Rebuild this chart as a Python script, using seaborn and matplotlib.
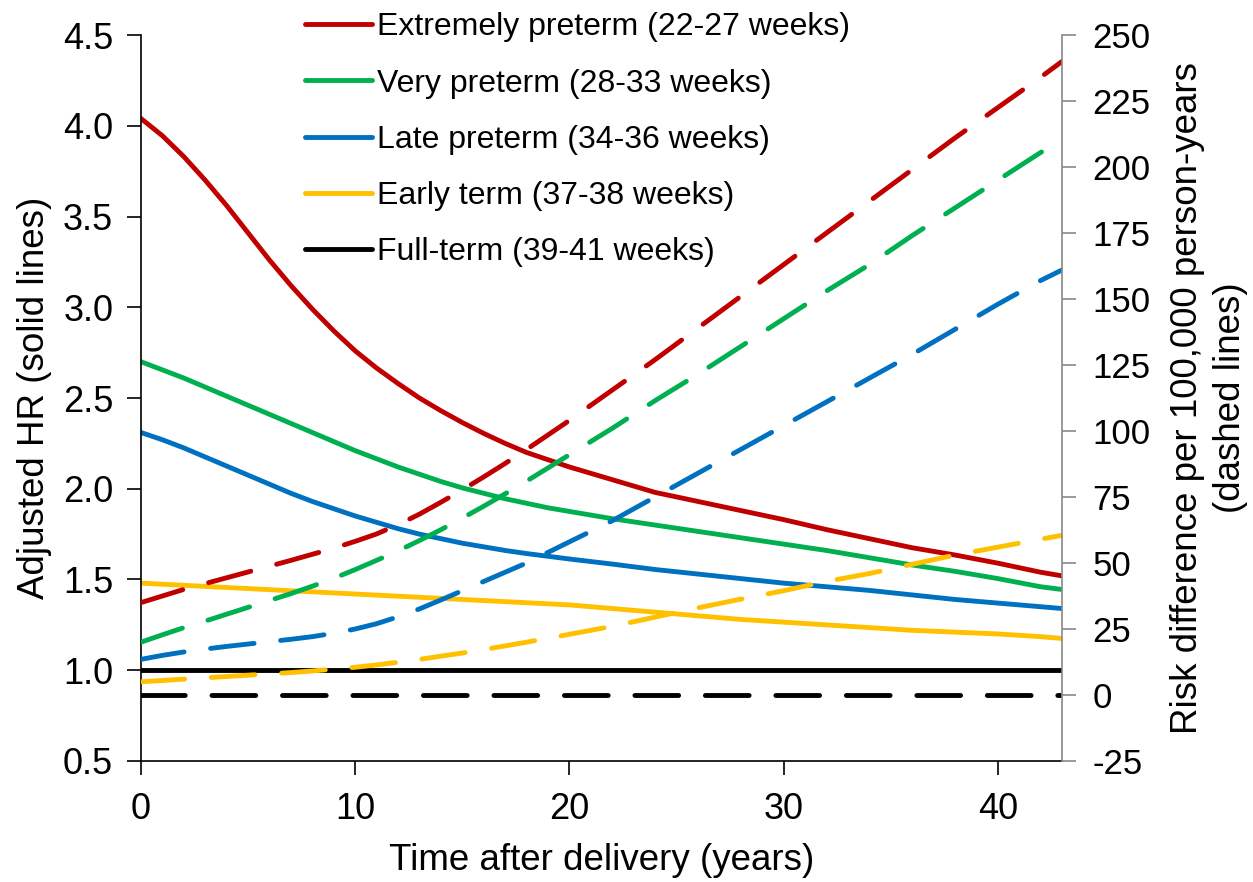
import numpy as np
import pandas as pd
import seaborn as sns
import matplotlib
matplotlib.use("Agg")
import matplotlib.pyplot as plt
from matplotlib.lines import Line2D

years = list(range(0, 21)) + [22, 24, 26, 28, 30, 32, 34, 36, 38, 40, 42, 43]

groups = ["Extremely preterm (22-27 weeks)", "Very preterm (28-33 weeks)",
          "Late preterm (34-36 weeks)", "Early term (37-38 weeks)",
          "Full-term (39-41 weeks)"]
colors = ["#C00000", "#00B050", "#0070C0", "#FFC000", "#000000"]

# adjusted hazard ratios (solid lines, left axis)
hr_extreme = [4.04, 3.945, 3.83, 3.70, 3.56, 3.41, 3.26, 3.12, 2.99, 2.87, 2.76,
              2.665, 2.58, 2.50, 2.43, 2.365, 2.305, 2.25, 2.20, 2.16, 2.12,
              2.05, 1.98, 1.93, 1.88, 1.83, 1.775, 1.725, 1.675, 1.635, 1.59, 1.54, 1.52]
hr_very = [2.70, 2.655, 2.61, 2.56, 2.51, 2.46, 2.41, 2.36, 2.31, 2.26, 2.21,
           2.165, 2.12, 2.08, 2.04, 2.005, 1.975, 1.945, 1.92, 1.895, 1.875,
           1.835, 1.80, 1.765, 1.73, 1.695, 1.66, 1.62, 1.58, 1.545, 1.505, 1.46, 1.445]
hr_late = [2.31, 2.27, 2.225, 2.175, 2.125, 2.075, 2.025, 1.975, 1.93, 1.89, 1.85,
           1.815, 1.78, 1.75, 1.725, 1.70, 1.68, 1.66, 1.643, 1.628, 1.613,
           1.585, 1.555, 1.53, 1.505, 1.48, 1.46, 1.44, 1.415, 1.39, 1.37, 1.35, 1.34]
hr_early = [1.48, 1.474, 1.468, 1.462, 1.456, 1.45, 1.444, 1.438, 1.432, 1.426, 1.42,
            1.414, 1.408, 1.402, 1.396, 1.39, 1.384, 1.378, 1.372, 1.366, 1.36,
            1.34, 1.32, 1.30, 1.28, 1.265, 1.25, 1.235, 1.22, 1.21, 1.20, 1.185, 1.175]
hr_full = [1.0] * len(years)

# risk difference per 100,000 person-years (dashed lines, right axis)
rd_extreme = [35, 37.5, 40, 42.2, 44.4, 46.6, 48.8, 51, 53.3, 55.6, 58.2,
              61, 64.5, 68.5, 73, 77.7, 82.6, 87.7, 93, 98.5, 104,
              115.5, 127, 139, 151, 163, 175, 187, 199, 211, 222.5, 234, 240]
rd_very = [20, 22.8, 25.5, 28, 30.6, 33.2, 35.8, 38.4, 41.2, 44.2, 47.5,
           51, 54.6, 58.5, 62.6, 67, 71.5, 76.2, 81, 86, 91,
           101, 111.5, 121.5, 132, 142.5, 153, 163, 174, 184.5, 195, 205.5, 210]
rd_late = [13.5, 15, 16.3, 17.4, 18.4, 19.3, 20.2, 21.1, 22.1, 23.4, 25,
           27, 29.6, 32.6, 36, 39.5, 43, 46.5, 50, 54, 58,
           66, 75, 84, 93, 102, 111, 120, 129, 138.5, 148, 157, 161]
rd_early = [5, 5.5, 6, 6.5, 7, 7.5, 8, 8.5, 9.1, 9.8, 10.5,
            11.4, 12.4, 13.5, 14.7, 15.9, 17.2, 18.6, 20, 21.5, 23,
            26, 29.5, 33, 36.3, 39.5, 43, 46, 49.5, 53, 56, 59, 60.5]
rd_full = [0] * len(years)

hr_all = [hr_extreme, hr_very, hr_late, hr_early, hr_full]
rd_all = [rd_extreme, rd_very, rd_late, rd_early, rd_full]

df = pd.concat([pd.DataFrame({"year": years, "hr": h, "rd": r, "group": g})
                for g, h, r in zip(groups, hr_all, rd_all)], ignore_index=True)
palette = dict(zip(groups, colors))

sns.set_style("ticks", {"axes.edgecolor": "black", "text.color": "black",
                        "xtick.color": "black", "ytick.color": "black",
                        "axes.labelcolor": "black"})
plt.rcParams["font.family"] = ["Liberation Sans", "DejaVu Sans"]
plt.rcParams["axes.unicode_minus"] = False

fig = plt.figure(figsize=(12.53, 8.82), dpi=100)
ax = fig.add_axes([0.1125, 0.1372, 0.7351, 0.8231])

lw = 3.5
sns.lineplot(data=df, x="year", y="hr", hue="group", hue_order=groups,
             palette=palette, linewidth=lw, legend=False, ax=ax)
ax2 = ax.twinx()
sns.lineplot(data=df, x="year", y="rd", hue="group", hue_order=groups,
             palette=palette, linewidth=lw, legend=False, ax=ax2)
for ln in ax2.lines:
    ln.set_dashes([9, 5.5])
    ln.set_dash_capstyle("round")

ax.set_xlim(0, 43)
ax.set_ylim(0.5, 4.5)
ax.set_xticks([0, 10, 20, 30, 40])
ax.set_yticks(np.arange(0.5, 4.51, 0.5))
ax2.set_ylim(-25, 250)
ax2.set_yticks(range(-25, 251, 25))

ax.set_xlabel("Time after delivery (years)", fontsize=26.5, labelpad=12)
ax.set_ylabel("Adjusted HR (solid lines)", fontsize=26.5, labelpad=8)
ax2.set_ylabel("Risk difference per 100,000 person-years\n(dashed lines)",
               fontsize=26.5, labelpad=14, linespacing=1.3)
ax2.set_xlabel("")

ax.tick_params(axis="both", labelsize=26, length=10, width=1.2, pad=10)
ax.tick_params(axis="x", pad=12)
ax2.tick_params(axis="y", labelsize=25, length=10, width=1.2, pad=12,
                color="#888888", labelcolor="black")

ax.spines["top"].set_visible(False)
ax.spines["right"].set_visible(False)
for s in ["top", "left", "bottom"]:
    ax2.spines[s].set_visible(False)
ax2.spines["right"].set_color("#888888")
ax2.spines["right"].set_linewidth(1.2)
ax.spines["left"].set_linewidth(1.2)
ax.spines["bottom"].set_linewidth(1.2)

handles = [Line2D([], [], color=c, linewidth=lw) for c in colors]
ax2.legend(handles, groups, loc="upper left", bbox_to_anchor=(0.2434, 0.986),
           bbox_transform=fig.transFigure, frameon=False, fontsize=23,
           handlelength=2.1, handletextpad=0.15, labelspacing=0.82,
           borderpad=0, borderaxespad=0)

fig.savefig("out.png", dpi=100)
